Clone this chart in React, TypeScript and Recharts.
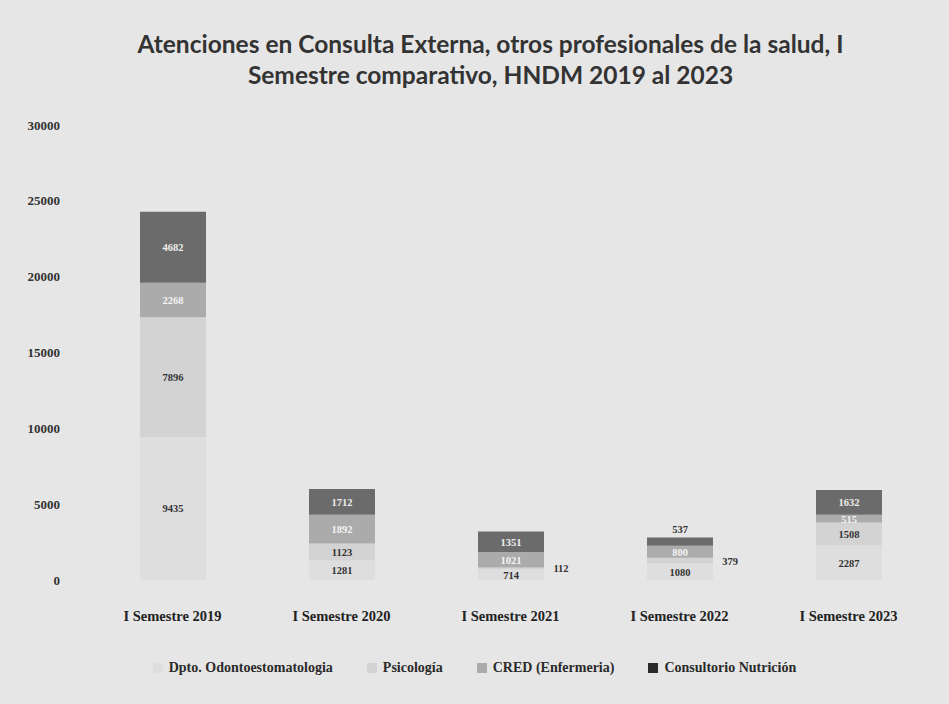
import React from 'react';
import { BarChart, Bar, XAxis, YAxis, LabelList } from 'recharts';

const semesters = ['I Semestre 2019', 'I Semestre 2020', 'I Semestre 2021', 'I Semestre 2022', 'I Semestre 2023'];
const odonto = [9435, 1281, 714, 1080, 2287];
const psicologia = [7896, 1123, 112, 379, 1508];
const cred = [2268, 1892, 1021, 800, 515];
const nutricion = [4682, 1712, 1351, 537, 1632];
const yTicks = [0, 5000, 10000, 15000, 20000, 25000, 30000];

const SERIES = [
  { key: 'odonto', name: 'Dpto. Odontoestomatologia', color: '#dedede', text: '#333' },
  { key: 'psicologia', name: 'Psicología', color: '#d3d3d3', text: '#333' },
  { key: 'cred', name: 'CRED (Enfermeria)', color: '#ababab', text: '#f4f4f4' },
  { key: 'nutricion', name: 'Consultorio Nutrición', color: '#6b6b6b', text: '#eeeeee' },
];

const data = semesters.map((name, i) => ({
  name,
  odonto: odonto[i],
  psicologia: psicologia[i],
  cred: cred[i],
  nutricion: nutricion[i],
}));

const SERIF = '"Liberation Serif", "DejaVu Serif", serif';

// thin segments: psicología label goes right of the bar, a thin top segment gets its label above
const SegmentLabel = (key: string, color: string) => (props: any) => {
  const { x, y, width, height, value } = props;
  let cx = x + width / 2;
  let cy = y + height / 2 + 4;
  let fill = color;
  if (key === 'psicologia' && value < 500) {
    cx = x + width + 17;
    fill = '#333';
  } else if (key === 'nutricion' && height < 11) {
    cy = y - 5;
    fill = '#333';
  }
  return (
    <text x={cx} y={cy} textAnchor="middle" fontFamily={SERIF} fontWeight="bold" fontSize={10.5} fill={fill}>
      {value}
    </text>
  );
};

const LegendBox = () => (
  <div
    style={{
      position: 'absolute',
      left: 0,
      top: 660,
      width: 949,
      display: 'flex',
      justifyContent: 'center',
      gap: 34,
      fontFamily: SERIF,
      fontWeight: 'bold',
      fontSize: 14,
      color: '#2a2a2a',
    }}
  >
    {SERIES.map(s => (
      <div key={s.key} style={{ display: 'flex', alignItems: 'center', gap: 6 }}>
        <span style={{ width: 10, height: 10, background: s.key === 'nutricion' ? '#2a2a2a' : s.color, display: 'inline-block' }} />
        <span>{s.name}</span>
      </div>
    ))}
  </div>
);

export default function App() {
  return (
    <div style={{ position: 'fixed', left: 0, top: 0, width: 949, height: 704, background: '#e6e6e6' }}>
      <div
        style={{
          position: 'absolute',
          left: 16,
          top: 28,
          width: 949,
          textAlign: 'center',
          fontFamily: 'Lato, "Open Sans", sans-serif',
          fontWeight: 'bold',
          fontSize: 24.5,
          lineHeight: '31px',
          color: '#333',
        }}
      >
        Atenciones en Consulta Externa, otros profesionales de la salud, I
        <br />
        Semestre comparativo, HNDM 2019 al 2023
      </div>
      <BarChart width={949} height={704} data={data} margin={{ top: 125, right: 16, bottom: 94, left: 0 }}>
        <XAxis
          dataKey="name"
          height={30}
          axisLine={false}
          tickLine={false}
          tickMargin={25}
          tick={{ fontFamily: SERIF, fontWeight: 'bold', fontSize: 14.5, fill: '#222' }}
        />
        <YAxis
          width={88}
          domain={[0, 30000]}
          ticks={yTicks}
          axisLine={false}
          tickLine={false}
          tickMargin={22}
          tick={{ fontFamily: SERIF, fontWeight: 'bold', fontSize: 13, fill: '#333' }}
        />
        {SERIES.map(s => (
          <Bar key={s.key} dataKey={s.key} name={s.name} stackId="a" fill={s.color} barSize={66} isAnimationActive={false}>
            <LabelList dataKey={s.key} content={SegmentLabel(s.key, s.text)} />
          </Bar>
        ))}
      </BarChart>
      <LegendBox />
    </div>
  );
}
